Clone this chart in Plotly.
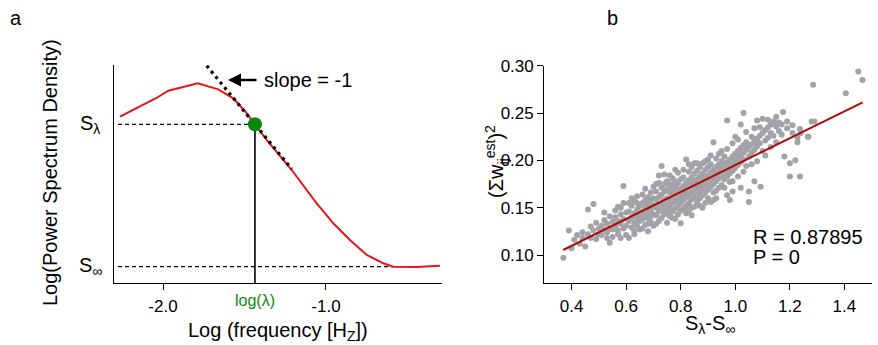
import plotly.graph_objects as go

# ---------------- Panel a data ----------------
curve_x = [-2.264, -2.152, -2.040, -1.967, -1.787, -1.661, -1.569, -1.498, -1.436, -1.364,
           -1.210, -1.118, -1.057, -0.955, -0.853, -0.750, -0.648, -0.587, -0.444, -0.301]
curve_y = [166.3, 176.0, 185.0, 192.3, 199.7, 193.7, 184.7, 172.0, 158.7, 143.0,
           113.0, 93.0, 79.7, 59.7, 43.0, 28.0, 19.7, 16.3, 16.0, 17.3]
tangent_x = [-1.732, -1.210]
tangent_y = [217.3, 114.0]
log_lambda = -1.436
s_lambda = 158.7
s_inf = 16.3
dash_start = -2.276
s_inf_end = -0.589
left_tickvals = [-2.0, -1.0]
left_ticktext = ["-2.0", "-1.0"]

# ---------------- Panel b data ----------------
scatter_x = [
    0.37, 0.39, 0.40,
    0.41, 0.42, 0.43, 0.44, 0.45, 0.44,
    0.46, 0.47, 0.48, 0.47, 0.48, 0.49, 0.49, 0.50, 0.46, 0.50,
    0.51, 0.51, 0.52, 0.52, 0.53, 0.53, 0.54, 0.54, 0.54, 0.55, 0.55, 0.52, 0.53, 0.55,
    0.56, 0.56, 0.56, 0.57, 0.57, 0.57, 0.58, 0.58, 0.58, 0.59, 0.59, 0.59, 0.60, 0.60, 0.60, 0.58, 0.57, 0.59,
    0.61, 0.61, 0.61, 0.62, 0.62, 0.62, 0.63, 0.63, 0.63, 0.63, 0.64, 0.64, 0.64, 0.65, 0.65, 0.65, 0.62, 0.64, 0.61, 0.65, 0.63, 0.64,
    0.66, 0.66, 0.66, 0.66, 0.67, 0.67, 0.67, 0.67, 0.68, 0.68, 0.68, 0.68, 0.68, 0.69, 0.69, 0.69, 0.69, 0.70, 0.70, 0.70, 0.70, 0.66, 0.67, 0.69, 0.68, 0.70,
    0.71, 0.71, 0.71, 0.71, 0.72, 0.72, 0.72, 0.72, 0.72, 0.73, 0.73, 0.73, 0.73, 0.73, 0.74, 0.74, 0.74, 0.74, 0.74, 0.75, 0.75, 0.75, 0.75, 0.75, 0.71, 0.72, 0.74, 0.73, 0.71, 0.75,
    0.76, 0.76, 0.76, 0.76, 0.76, 0.77, 0.77, 0.77, 0.77, 0.77, 0.78, 0.78, 0.78, 0.78, 0.78, 0.79, 0.79, 0.79, 0.79, 0.79, 0.80, 0.80, 0.80, 0.80, 0.80, 0.76, 0.77, 0.78, 0.79, 0.78, 0.77, 0.80,
    0.81, 0.81, 0.81, 0.81, 0.81, 0.82, 0.82, 0.82, 0.82, 0.82, 0.83, 0.83, 0.83, 0.83, 0.83, 0.84, 0.84, 0.84, 0.84, 0.84, 0.85, 0.85, 0.85, 0.85, 0.85, 0.81, 0.82, 0.83, 0.84, 0.85, 0.83, 0.84,
    0.86, 0.86, 0.86, 0.86, 0.86, 0.87, 0.87, 0.87, 0.87, 0.87, 0.88, 0.88, 0.88, 0.88, 0.88, 0.89, 0.89, 0.89, 0.89, 0.89, 0.90, 0.90, 0.90, 0.90, 0.90, 0.86, 0.88, 0.89, 0.87, 0.90,
    0.91, 0.91, 0.91, 0.91, 0.91, 0.92, 0.92, 0.92, 0.92, 0.92, 0.93, 0.93, 0.93, 0.93, 0.93, 0.94, 0.94, 0.94, 0.94, 0.94, 0.95, 0.95, 0.95, 0.95, 0.91, 0.93, 0.95, 0.92,
    0.96, 0.96, 0.96, 0.96, 0.96, 0.97, 0.97, 0.97, 0.97, 0.97, 0.98, 0.98, 0.98, 0.98, 0.98, 0.99, 0.99, 0.99, 0.99, 0.99, 1.00, 1.00, 1.00, 1.00, 0.97, 0.99,
    1.01, 1.01, 1.01, 1.01, 1.01, 1.02, 1.02, 1.02, 1.02, 1.02, 1.03, 1.03, 1.03, 1.03, 1.03, 1.04, 1.04, 1.04, 1.04, 1.05, 1.05, 1.05,
    1.06, 1.06, 1.06, 1.06, 1.07, 1.07, 1.07, 1.07, 1.08, 1.08, 1.08, 1.08, 1.09, 1.09, 1.09, 1.10, 1.10, 1.10, 1.05, 1.093,
    1.11, 1.11, 1.11, 1.12, 1.12, 1.12, 1.13, 1.13, 1.13, 1.14, 1.14, 1.15, 1.15, 1.15,
    1.16, 1.16, 1.17, 1.17, 1.175, 1.18, 1.19, 1.19, 1.20, 1.20,
    1.21, 1.21, 1.22, 1.228, 1.228, 1.237, 1.237, 1.24,
    1.266, 1.268, 1.28, 1.29, 1.285,
    1.405, 1.451, 1.466,
]
scatter_y = [
    0.097, 0.126, 0.107,
    0.116, 0.121, 0.112, 0.124, 0.109, 0.118,
    0.122, 0.130, 0.154, 0.118, 0.126, 0.134, 0.117, 0.128, 0.148, 0.122,
    0.131, 0.121, 0.127, 0.137, 0.124, 0.133, 0.129, 0.113, 0.141, 0.135, 0.119, 0.145, 0.118, 0.127,
    0.130, 0.140, 0.147, 0.126, 0.136, 0.122, 0.133, 0.143, 0.150, 0.173, 0.128, 0.138, 0.131, 0.145, 0.121, 0.118, 0.151, 0.155,
    0.136, 0.146, 0.118, 0.140, 0.129, 0.152, 0.134, 0.144, 0.157, 0.125, 0.139, 0.148, 0.131, 0.143, 0.152, 0.136, 0.160, 0.162, 0.155, 0.127, 0.122, 0.155,
    0.146, 0.138, 0.155, 0.164, 0.142, 0.150, 0.132, 0.158, 0.125, 0.145, 0.153, 0.161, 0.139, 0.148, 0.157, 0.135, 0.166, 0.152, 0.143, 0.160, 0.131, 0.128, 0.170, 0.141, 0.133, 0.172,
    0.150, 0.158, 0.142, 0.167, 0.153, 0.161, 0.146, 0.136, 0.176, 0.155, 0.164, 0.194, 0.148, 0.139, 0.158, 0.167, 0.151, 0.143, 0.175, 0.160, 0.153, 0.169, 0.146, 0.134, 0.133, 0.184, 0.185, 0.171, 0.175, 0.178,
    0.158, 0.166, 0.150, 0.174, 0.141, 0.161, 0.169, 0.155, 0.146, 0.181, 0.164, 0.172, 0.157, 0.149, 0.138, 0.167, 0.159, 0.176, 0.152, 0.187, 0.170, 0.162, 0.1335, 0.155, 0.180, 0.184, 0.139, 0.190, 0.143, 0.178, 0.175, 0.147,
    0.165, 0.173, 0.158, 0.182, 0.149, 0.201, 0.168, 0.176, 0.161, 0.152, 0.171, 0.179, 0.164, 0.155, 0.188, 0.174, 0.166, 0.182, 0.159, 0.142, 0.177, 0.169, 0.186, 0.161, 0.151, 0.190, 0.144, 0.196, 0.193, 0.197, 0.147, 0.150,
    0.172, 0.180, 0.165, 0.189, 0.156, 0.175, 0.183, 0.168, 0.193, 0.160, 0.178, 0.186, 0.171, 0.163, 0.197, 0.181, 0.174, 0.190, 0.166, 0.155, 0.184, 0.177, 0.193, 0.169, 0.201, 0.197, 0.150, 0.199, 0.152, 0.160,
    0.179, 0.187, 0.172, 0.196, 0.156, 0.219, 0.182, 0.190, 0.175, 0.166, 0.185, 0.193, 0.178, 0.202, 0.168, 0.188, 0.196, 0.181, 0.171, 0.207, 0.191, 0.199, 0.184, 0.174, 0.205, 0.160, 0.210, 0.158,
    0.187, 0.195, 0.180, 0.204, 0.171, 0.242, 0.190, 0.198, 0.183, 0.212, 0.193, 0.201, 0.186, 0.177, 0.158, 0.196, 0.204, 0.189, 0.218, 0.167, 0.199, 0.207, 0.192, 0.225, 0.163, 0.178,
    0.202, 0.210, 0.195, 0.183, 0.222, 0.205, 0.213, 0.198, 0.238, 0.171, 0.250, 0.208, 0.216, 0.201, 0.188, 0.211, 0.219, 0.230, 0.194, 0.156, 0.214, 0.204,
    0.217, 0.225, 0.208, 0.196, 0.220, 0.234, 0.211, 0.178, 0.223, 0.215, 0.242, 0.199, 0.226, 0.218, 0.235, 0.229, 0.210, 0.244, 0.167, 0.172,
    0.232, 0.221, 0.205, 0.235, 0.243, 0.224, 0.238, 0.214, 0.229, 0.241, 0.226, 0.236, 0.219, 0.246,
    0.231, 0.240, 0.227, 0.238, 0.251, 0.204, 0.234, 0.241, 0.183, 0.197,
    0.237, 0.229, 0.200, 0.219, 0.224, 0.183, 0.233, 0.229,
    0.225, 0.225, 0.241, 0.241, 0.280,
    0.271, 0.294, 0.285,
]
assert len(scatter_x) == len(scatter_y)
fit_x = [0.369, 1.467]
fit_y = [0.1053, 0.2613]
right_xticks = [0.4, 0.6, 0.8, 1.0, 1.2, 1.4]
right_yticks = [0.10, 0.15, 0.20, 0.25, 0.30]
r_text = "R = 0.87895"
p_text = "P = 0"

FONT = "Arial, Liberation Sans, sans-serif"
W, H = 878, 345


def px(x):
    return x / W


def py(y):
    return 1 - y / H


fig = go.Figure()

# Panel a
fig.add_trace(go.Scatter(x=[dash_start, log_lambda], y=[s_lambda, s_lambda], mode="lines",
                         line=dict(color="black", width=1.2, dash="4px,3px"), xaxis="x", yaxis="y"))
fig.add_trace(go.Scatter(x=[dash_start, s_inf_end], y=[s_inf, s_inf], mode="lines",
                         line=dict(color="black", width=1.2, dash="4px,3px"), xaxis="x", yaxis="y"))
fig.add_trace(go.Scatter(x=[log_lambda, log_lambda], y=[0, s_lambda], mode="lines",
                         line=dict(color="black", width=1.6), xaxis="x", yaxis="y"))
fig.add_trace(go.Scatter(x=curve_x, y=curve_y, mode="lines", line=dict(color="#e8141c", width=2),
                         xaxis="x", yaxis="y"))
fig.add_trace(go.Scatter(x=tangent_x, y=tangent_y, mode="lines",
                         line=dict(color="black", width=3.2, dash="3px,4px"), xaxis="x", yaxis="y"))
fig.add_trace(go.Scatter(x=[log_lambda], y=[s_lambda], mode="markers",
                         marker=dict(color="#0b870b", size=14), xaxis="x", yaxis="y"))

# Panel b
fig.add_trace(go.Scatter(x=scatter_x, y=scatter_y, mode="markers",
                         marker=dict(color="#a3a3a7", size=6, line=dict(width=0)),
                         xaxis="x2", yaxis="y2"))
fig.add_trace(go.Scatter(x=fit_x, y=fit_y, mode="lines", line=dict(color="#b00b0b", width=2),
                         xaxis="x2", yaxis="y2"))

axis_common = dict(showline=True, linecolor="black", linewidth=1.3, automargin=False,
                   ticklen=6, tickwidth=1.2, tickcolor="black", showgrid=False, zeroline=False,
                   mirror=False, tickfont=dict(family=FONT, size=17, color="black"))

fig.update_layout(
    template="none",
    width=W, height=H, autosize=False,
    margin=dict(l=0, r=0, t=0, b=0, pad=0, autoexpand=False),
    paper_bgcolor="white", plot_bgcolor="white",
    showlegend=False,
    xaxis=dict(domain=[px(114), px(442)], range=[-2.3006, -0.2883], anchor="y", ticks="outside",
               tickvals=left_tickvals, ticktext=left_ticktext, ticklabelstandoff=1, **axis_common),
    yaxis=dict(domain=[py(283), py(65)], range=[0, 218], anchor="x", ticks="",
               showticklabels=False, **axis_common),
    xaxis2=dict(domain=[px(544.3), px(871.7)], range=[0.3, 1.5], anchor="y2", ticks="outside",
                tickvals=right_xticks, tickformat=".1f", ticklabelstandoff=1, **axis_common),
    yaxis2=dict(domain=[py(283.3), py(65.7)], range=[0.0701, 0.30], anchor="x2", ticks="outside",
                tickvals=right_yticks, tickformat=".2f", **axis_common),
)

ann = []
big = dict(family=FONT, size=20, color="black")


def note(x, y, text, xref="paper", yref="paper", xanchor="center", yanchor="middle", **kw):
    ann.append(dict(x=x, y=y, xref=xref, yref=yref, text=text, showarrow=False,
                    xanchor=xanchor, yanchor=yanchor, **kw))


note(px(16), py(18), "a", font=big)
note(px(612), py(18), "b", font=big)
note(px(50), py(173), "Log(Power Spectrum Density)", textangle=-90, font=big)
note(px(278), py(331), "Log (frequency [H<sub>Z</sub>])", font=big)
note(log_lambda, py(300), "log(λ)", xref="x", font=dict(family=FONT, size=16, color="#0b870b"))
note(px(90), s_lambda, "S<sub>λ</sub>", yref="y", font=big)
note(px(90), s_inf, "S<sub>∞</sub>", yref="y", font=big)
# arrow pointing at tangent line
ann.append(dict(x=-1.601, y=203, ax=-1.417, ay=203, xref="x", yref="y", axref="x", ayref="y",
                text="", showarrow=True, arrowhead=2, arrowsize=1.0, arrowwidth=2.6, arrowcolor="black"))
note(-1.395, 203, "slope = -1", xref="x", yref="y", xanchor="left", font=big)
# panel b texts
note(px(497), py(162), "(Σw<sub>ij</sub><sup>est</sup>)<sup>2</sup>", textangle=-90, font=big)
note(px(710), py(324), "S<sub>λ</sub>-S<sub>∞</sub>", font=big)
note(px(751), py(237), r_text, xanchor="left", font=big)
note(px(751), py(257), p_text, xanchor="left", font=big)
fig.update_layout(annotations=ann)

fig.write_html("out.html")
